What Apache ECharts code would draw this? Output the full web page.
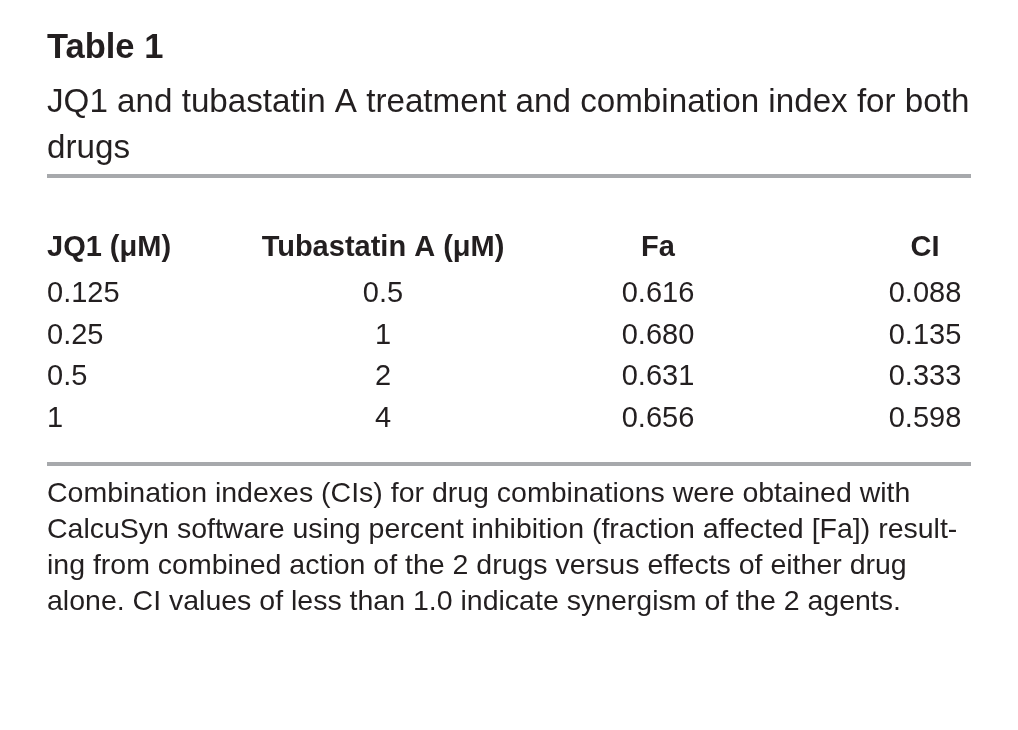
<!DOCTYPE html>
<html><head><meta charset="utf-8">
<script src="https://cdn.jsdelivr.net/npm/echarts@6/dist/echarts.min.js"></script>
<style>html,body{margin:0;padding:0;background:#fff}#c{width:1018px;height:730px}</style>
</head><body><div id="c"></div>
<script>
// ---- data ----
const tableLabel = 'Table 1';
const caption = ['JQ1 and tubastatin A treatment and combination index for both', 'drugs'];
const columns = ['JQ1 (μM)', 'Tubastatin A (μM)', 'Fa', 'CI'];
const jq1 = [0.125, 0.25, 0.5, 1];
const tubastatinA = [0.5, 1, 2, 4];
const fa = [0.616, 0.680, 0.631, 0.656];
const ci = [0.088, 0.135, 0.333, 0.598];
const rowKeys = ['header', 'r1', 'r2', 'r3', 'r4'];
const footnote = [
  'Combination indexes (CIs) for drug combinations were obtained with',
  'CalcuSyn software using percent inhibition (fraction affected [Fa]) result-',
  'ing from combined action of the 2 drugs versus effects of either drug',
  'alone. CI values of less than 1.0 indicate synergism of the 2 agents.'
];

// ---- fonts ----
function hasFont(name) {
  const c = document.createElement('canvas').getContext('2d');
  const s = 'Tubastatin A (JQ1) mmmmWWiil';
  c.font = 'bold 40px "' + name + '", monospace';
  const a = c.measureText(s).width;
  c.font = 'bold 40px monospace';
  const b = c.measureText(s).width;
  return Math.abs(a - b) > 1;
}
const narrow = hasFont('Liberation Sans Narrow');
const HDR_FAMILY = narrow ? '"Liberation Sans Narrow"' : '"Liberation Sans"';
const HDR_SIZE = narrow ? 33 : 29;
const BASE = '"Liberation Sans", Arial, Helvetica, sans-serif';
const INK = '#231f20';
const RULE = '#a7a9ac';

const fmt3 = v => v.toFixed(3);
const fmtPlain = v => String(v);

function columnSeries(k, values, fmt, align, dx) {
  const data = [{
    name: columns[k], value: [k, 0],
    label: { fontFamily: HDR_FAMILY, fontWeight: 'bold', fontSize: HDR_SIZE, offset: [dx, -5] }
  }].concat(values.map((v, i) => ({ name: fmt(v), value: [k, i + 1] })));
  return {
    type: 'scatter', symbolSize: 1, clip: false, silent: true,
    itemStyle: { color: 'rgba(0,0,0,0)', opacity: 1 },
    label: {
      show: true, position: 'inside', formatter: '{b}', align: align, verticalAlign: 'middle',
      offset: [dx, 0], fontFamily: BASE, fontSize: 29, color: INK, opacity: 1
    },
    data: data
  };
}

const chart = echarts.init(document.getElementById('c'), null, { renderer: 'canvas' });
chart.setOption({
  backgroundColor: '#ffffff',
  animation: false,
  grid: { left: 112, right: 93, top: 252.5, height: 166, containLabel: false },
  xAxis: { type: 'category', data: columns, boundaryGap: false, show: false },
  yAxis: { type: 'category', data: rowKeys, inverse: true, boundaryGap: false, show: false },
  series: [
    columnSeries(0, jq1, fmtPlain, 'left', -65),
    columnSeries(1, tubastatinA, fmtPlain, 'center', 0),
    columnSeries(2, fa, fmt3, 'center', 4),
    columnSeries(3, ci, fmt3, 'center', 0)
  ],
  graphic: [
    { type: 'text', x: 47, y: 48, silent: true,
      style: { text: tableLabel, fontFamily: BASE, fontWeight: 'bold', fontSize: 34.5, fill: INK, align: 'left', verticalAlign: 'middle' } },
    { type: 'text', x: 47, y: 79.4, silent: true,
      style: { text: caption.join('\n'), fontFamily: BASE, fontSize: 33.2, lineHeight: 46, fill: INK, align: 'left', verticalAlign: 'top' } },
    { type: 'rect', silent: true, shape: { x: 47, y: 174, width: 924, height: 4 }, style: { fill: RULE } },
    { type: 'rect', silent: true, shape: { x: 47, y: 462, width: 924, height: 4 }, style: { fill: RULE } },
    { type: 'text', x: 47, y: 476.4, silent: true,
      style: { text: footnote.join('\n'), fontFamily: BASE, fontSize: 28.5, lineHeight: 36, fill: INK, align: 'left', verticalAlign: 'top' } }
  ]
});
</script>
</body></html>
